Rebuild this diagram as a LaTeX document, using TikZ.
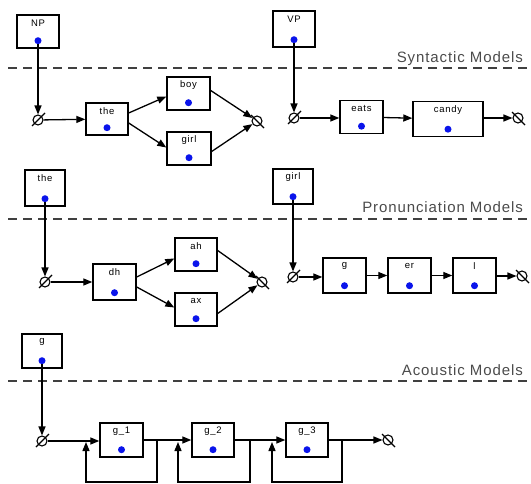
\documentclass[tikz,border=0pt]{standalone}
\usepackage{fontspec}
\setmainfont{Liberation Sans}
\newfontfamily\headfont[LetterSpace=6]{Liberation Sans}
\newfontfamily\lblfont[LetterSpace=8]{Liberation Sans}
\usetikzlibrary{arrows.meta,calc}
\definecolor{dotblue}{RGB}{10,20,235}
\definecolor{headgray}{RGB}{75,75,75}
\tikzset{
  statebox/.style={draw=black, line width=1.4pt, fill=white, rectangle, minimum width=42pt, minimum height=34pt, inner sep=0pt},
  lbl/.style={font=\lblfont\fontsize{9.5}{10}\selectfont, inner sep=0pt, text=black},
  bluedot/.style={circle, fill=dotblue, minimum size=7pt, inner sep=0pt},
  nullst/.style={circle, draw=black, line width=1.1pt, minimum size=10pt, inner sep=0pt},
  conn/.style={draw=black, line width=1.3pt, -{Triangle[length=9pt,width=7pt]}},
  dashline/.style={draw=black!75, line width=1.7pt, dash pattern=on 9pt off 6pt},
  head/.style={font=\headfont\fontsize{15}{16}\selectfont, text=headgray, anchor=base east, inner sep=0pt}
}
% state box with label and dot
\newcommand\mkstate[5]{%
  \node[statebox, minimum width=#4, minimum height=#5] (#1) at (#2) {};
  \node[lbl] (#1-l) at ([yshift=-9pt]#1.north) {#3};
  \node[bluedot] (#1-d) at ([yshift=8pt]#1.south) {};
}
\newcommand\mkstart[2]{%
  \node[nullst] (#1) at (#2) {};
  \draw[line width=1.1pt] ([shift={(-6pt,-6pt)}]#1.center) -- ([shift={(7pt,7pt)}]#1.center);
}
\newcommand\mkend[2]{%
  \node[nullst] (#1) at (#2) {};
  \draw[line width=1.1pt] ([shift={(-6pt,6pt)}]#1.center) -- ([shift={(7pt,-7pt)}]#1.center);
}
\begin{document}
\begin{tikzpicture}[x=1pt,y=-1pt]
\useasboundingbox (0,0) rectangle (531,484);

% ---------------- Syntactic ----------------
\draw[dashline] (8,68) -- (529,68);
\node[head] (hsyn) at (523,63) {Syntactic Models};

\mkstate{NP}{38,31.5}{NP}{42pt}{33pt}
\mkstart{s1}{38,120}
\mkstate{the}{107,119}{the}{42pt}{32pt}
\mkstate{boy}{188.5,93.5}{boy}{43pt}{33pt}
\mkstate{girl}{189,148.5}{girl}{44pt}{33pt}
\mkend{e1}{257,121}
\draw[conn] (NP-d) -- (s1);
\draw[conn] (s1) -- (the);
\draw[conn] ([yshift=6pt]the.east) -- ([yshift=-3pt]boy.west);
\draw[conn] ([yshift=-4pt]the.east) -- ([yshift=1pt]girl.west);
\draw[conn] ([yshift=3pt]boy.east) -- (e1);
\draw[conn] ([yshift=-3pt]girl.east) -- (e1);

\mkstate{VP}{294,29}{VP}{42pt}{36pt}
\mkstart{s2}{294,118}
\mkstate{eats}{361.5,117}{eats}{43pt}{33pt}
\mkstate{candy}{448,119}{candy}{70pt}{35pt}
\mkend{e2}{518,118}
\draw[conn] (VP-d) -- (s2);
\draw[conn] (s2) -- (s2 -| eats.west);
\draw[conn] (eats) -- (candy);
\draw[conn] (candy.east |- e2) -- (e2);

% ---------------- Pronunciation ----------------
\draw[dashline] (8,219) -- (529,219);
\node[head] (hpro) at (523,213) {Pronunciation Models};

\mkstate{the2}{45,188}{the}{40pt}{36pt}
\mkstart{s3}{45,282}
\mkstate{dh}{114.5,282}{dh}{43pt}{36pt}
\mkstate{ah}{196,254.5}{ah}{42pt}{33pt}
\mkstate{ax}{196,309.5}{ax}{42pt}{33pt}
\mkend{e3}{262,282}
\draw[conn] (the2-d) -- (s3);
\draw[conn] (s3) -- (dh);
\draw[conn] ([yshift=5pt]dh.east) -- ([yshift=-4pt]ah.west);
\draw[conn] ([yshift=-5pt]dh.east) -- ([yshift=2pt]ax.west);
\draw[conn] ([yshift=4pt]ah.east) -- (e3);
\draw[conn] ([yshift=-4pt]ax.east) -- (e3);

\mkstate{girl2}{293,186.5}{girl}{40pt}{35pt}
\mkstart{s4}{293,277}
\mkstate{gg}{344.5,275.5}{g}{43pt}{35pt}
\mkstate{er}{409.5,275.5}{er}{43pt}{35pt}
\mkstate{ll}{474.5,275.5}{l}{43pt}{35pt}
\mkend{e4}{522,276}
\draw[conn] (girl2-d) -- (s4);
\draw[conn] (s4) -- (s4 -| gg.west);
\draw[conn] (gg) -- (er);
\draw[conn] (er) -- (ll);
\draw[conn] (ll.east |- e4) -- (e4);

% ---------------- Acoustic ----------------
\draw[dashline] (8,381) -- (529,381);
\node[head] (haco) at (523,375) {Acoustic Models};

\mkstate{g0}{42,351}{g}{40pt}{34pt}
\mkstart{s5}{42,441}
\mkstate{ga}{121.5,440}{g\_1}{43pt}{34pt}
\mkstate{gb}{213,440}{g\_2}{42pt}{34pt}
\mkstate{gc}{307,440}{g\_3}{42pt}{34pt}
\mkend{e5}{388,440}
\draw[conn] (g0-d) -- (s5);
\draw[conn] (s5) -- (s5 -| ga.west);
\draw[conn] (ga) -- (gb);
\draw[conn] (gb) -- (gc);
\draw[conn] (gc) -- (e5);

\coordinate (ba) at (157,440);
\coordinate (bb) at (250,440);
\coordinate (bc) at (342,440);
\coordinate (ra) at (86,482);
\coordinate (rb) at (178,482);
\coordinate (rc) at (272,482);
\draw[conn] (ba) -- (ba |- ra) -- (ra) -- ([yshift=-2pt]ra |- ba);
\draw[conn] (bb) -- (bb |- rb) -- (rb) -- ([yshift=-2pt]rb |- bb);
\draw[conn] (bc) -- (bc |- rc) -- (rc) -- ([yshift=-2pt]rc |- bc);
\end{tikzpicture}
\end{document}
